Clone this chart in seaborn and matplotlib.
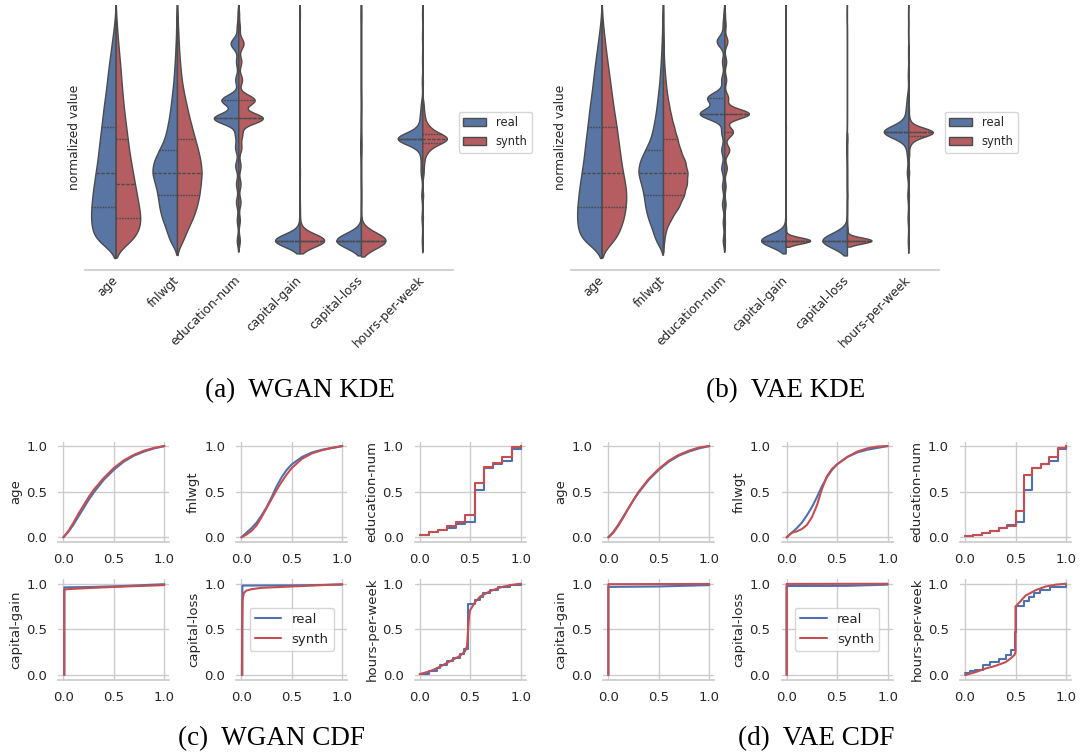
import numpy as np
import pandas as pd
import seaborn as sns
import matplotlib.pyplot as plt

FEATURES = ["age", "fnlwgt", "education-num", "capital-gain", "capital-loss", "hours-per-week"]
SOURCES = ["real", "synth"]
COLORS = {"real": "#4c72b0", "synth": "#c44e52"}

# ---- violin samples: value levels and number of samples on each level ----
CONT_LEVELS = [0.00, 0.05, 0.10, 0.15, 0.20, 0.25, 0.30, 0.35, 0.40, 0.45, 0.50,
               0.55, 0.60, 0.65, 0.70, 0.75, 0.80, 0.85, 0.90, 0.95, 1.00]
AGE_REAL = [85, 95, 100, 97, 93, 87, 80, 73, 68, 63, 57, 52, 47, 40, 35, 30, 24, 18, 12, 6, 2]
AGE_WGAN = [70, 95, 100, 92, 84, 76, 68, 60, 53, 47, 42, 36, 31, 27, 23, 20, 16, 12, 8, 5, 2]
AGE_VAE = [55, 75, 90, 97, 100, 95, 85, 78, 72, 66, 60, 53, 46, 40, 34, 28, 22, 16, 11, 6, 2]
FNL_REAL = [30, 42, 60, 70, 75, 85, 100, 92, 70, 48, 38, 30, 24, 19, 14, 11, 8, 6, 4, 3, 2]
FNL_WGAN = [25, 42, 65, 80, 90, 95, 100, 95, 85, 72, 60, 48, 38, 28, 20, 15, 11, 8, 6, 4, 2]
FNL_VAE = [5, 12, 35, 65, 85, 97, 100, 90, 70, 58, 45, 33, 24, 16, 11, 7, 4, 3, 2, 1, 1]

EDU_LEVELS_W = [0.0, 0.09, 0.17, 0.25, 0.33, 0.41, 0.47, 0.54, 0.62, 0.71, 0.79, 0.87, 0.94, 1.0]
EDU_LEVELS_V = [0.0, 0.08, 0.16, 0.24, 0.32, 0.40, 0.48, 0.56, 0.63, 0.71, 0.79, 0.88, 0.95, 1.0]
EDU_REAL = [2, 2, 3, 3, 4, 4, 4, 32, 22, 4, 3, 10, 2, 1]
EDU_WGAN = [2, 2, 3, 3, 3, 4, 5, 33, 22, 5, 4, 7, 2, 1]
EDU_VAE = [1, 1, 2, 2, 4, 8, 14, 40, 6, 3, 3, 5, 2, 1]

GAIN_LEVELS = [0.0, 0.02, 0.05, 0.1, 0.15, 0.3, 0.5, 1.0]
GAIN_REAL = [92, 2, 2, 1, 1, 1, 0, 1]
GAIN_WGAN = [90, 3, 3, 1, 1, 1, 0, 1]
GAIN_VAE = [96, 0, 2, 1, 0, 0, 1, 0]

LOSS_LEVELS = [0.0, 0.05, 0.2, 0.4, 0.45, 0.6, 1.0]
LOSS_REAL = [95, 1, 0, 2, 1, 0, 1]
LOSS_WGAN = [93, 2, 1, 1, 1, 1, 1]
LOSS_VAE = [96, 2, 1, 0, 1, 0, 0]

HOURS_LEVELS_W = [0.0, 0.1, 0.2, 0.3, 0.35, 0.4, 0.43, 0.45, 0.47, 0.5, 0.55, 0.6, 0.7, 0.8, 0.9, 1.0]
HOURS_LEVELS_V = [0.0, 0.1, 0.2, 0.3, 0.38, 0.43, 0.46, 0.48, 0.5, 0.53, 0.58, 0.63, 0.73, 0.83, 0.92, 1.0]
HOURS_REAL = [2, 3, 4, 6, 5, 8, 0, 100, 0, 12, 8, 5, 2, 1, 1, 1]
HOURS_WGAN = [2, 3, 4, 6, 8, 22, 15, 100, 15, 25, 10, 6, 3, 2, 1, 1]
HOURS_VAE = [1, 2, 3, 4, 4, 8, 25, 100, 8, 6, 3, 2, 1, 1, 0, 0]

# ---- cumulative distributions ----
AGE_X = [0.0, 0.05, 0.1, 0.15, 0.2, 0.25, 0.3, 0.4, 0.5, 0.6, 0.7, 0.8, 0.9, 1.0]
AGE_CDF_REAL = [0.0, 0.06, 0.14, 0.23, 0.32, 0.41, 0.49, 0.63, 0.74, 0.83, 0.895, 0.94, 0.975, 1.0]
AGE_CDF_WGAN = [0.0, 0.07, 0.16, 0.26, 0.35, 0.44, 0.52, 0.65, 0.76, 0.845, 0.905, 0.95, 0.98, 1.0]
AGE_CDF_VAE = [0.0, 0.05, 0.13, 0.22, 0.32, 0.41, 0.5, 0.64, 0.75, 0.84, 0.905, 0.95, 0.985, 1.0]

FNL_X = [0.0, 0.05, 0.1, 0.15, 0.2, 0.25, 0.3, 0.35, 0.4, 0.45, 0.5, 0.6, 0.7, 0.8, 0.9, 1.0]
FNL_CDF_REAL = [0.0, 0.05, 0.1, 0.16, 0.24, 0.33, 0.44, 0.56, 0.66, 0.74, 0.8, 0.88, 0.93, 0.96, 0.98, 1.0]
FNL_CDF_WGAN = [0.0, 0.03, 0.07, 0.13, 0.22, 0.32, 0.42, 0.52, 0.61, 0.69, 0.76, 0.86, 0.92, 0.955, 0.98, 1.0]
FNL_CDF_VAE = [0.0, 0.05, 0.065, 0.09, 0.135, 0.22, 0.35, 0.53, 0.67, 0.75, 0.8, 0.88, 0.94, 0.975, 0.995, 1.0]

EDU_X_W = [0.0, 0.09, 0.18, 0.27, 0.36, 0.45, 0.55, 0.64, 0.73, 0.82, 0.91, 1.0]
EDU_CDF_REAL_W = [0.022, 0.055, 0.077, 0.105, 0.15, 0.17, 0.52, 0.763, 0.805, 0.84, 0.965, 1.0]
EDU_CDF_WGAN = [0.03, 0.06, 0.085, 0.12, 0.165, 0.245, 0.6, 0.77, 0.81, 0.883, 0.985, 1.0]
EDU_X_V = [0.0, 0.083, 0.167, 0.25, 0.333, 0.417, 0.5, 0.583, 0.667, 0.75, 0.833, 0.917, 1.0]
EDU_CDF_REAL_V = [0.015, 0.03, 0.05, 0.07, 0.1, 0.14, 0.17, 0.52, 0.763, 0.805, 0.84, 0.965, 1.0]
EDU_CDF_VAE = [0.015, 0.03, 0.05, 0.07, 0.1, 0.12, 0.29, 0.68, 0.763, 0.805, 0.88, 0.98, 1.0]

GAIN_X_REAL_W = [0.01, 0.01, 0.3, 0.6, 1.0]
GAIN_CDF_REAL_W = [0.0, 0.96, 0.965, 0.975, 0.995]
GAIN_X_WGAN = [0.008, 0.008, 0.03, 0.2, 0.5, 1.0]
GAIN_CDF_WGAN = [0.0, 0.93, 0.94, 0.95, 0.965, 0.985]
GAIN_X_REAL_V = [0.0, 0.0, 0.5, 1.0]
GAIN_CDF_REAL_V = [0.0, 0.965, 0.97, 0.985]
GAIN_X_VAE = [0.0, 0.0, 1.0]
GAIN_CDF_VAE = [0.0, 0.995, 0.998]

LOSS_X_REAL_W = [0.01, 0.01, 0.5, 1.0]
LOSS_CDF_REAL_W = [0.0, 0.98, 0.982, 0.99]
LOSS_X_WGAN = [0.005, 0.007, 0.012, 0.025, 0.05, 0.1, 0.2, 0.5, 0.8, 1.0]
LOSS_CDF_WGAN = [0.0, 0.5, 0.82, 0.9, 0.925, 0.94, 0.955, 0.97, 0.985, 0.995]
LOSS_X_REAL_V = [0.0, 0.0, 0.6, 1.0]
LOSS_CDF_REAL_V = [0.0, 0.975, 0.977, 0.99]
LOSS_X_VAE = [0.0, 0.0, 1.0]
LOSS_CDF_VAE = [0.0, 0.998, 1.0]

HOURS_X_REAL_W = [0.0, 0.09, 0.17, 0.2, 0.27, 0.33, 0.4, 0.44, 0.48, 0.55, 0.6, 0.63, 0.7, 0.78, 0.9, 1.0]
HOURS_CDF_REAL_W = [0.015, 0.04, 0.08, 0.11, 0.15, 0.19, 0.23, 0.28, 0.78, 0.82, 0.86, 0.9, 0.93, 0.965, 0.985, 1.0]
HOURS_X_WGAN = [0.0, 0.1, 0.2, 0.3, 0.4, 0.45, 0.47, 0.48, 0.49, 0.5, 0.55, 0.6, 0.7, 0.8, 0.9, 1.0]
HOURS_CDF_WGAN = [0.01, 0.04, 0.09, 0.15, 0.21, 0.26, 0.32, 0.5, 0.65, 0.71, 0.8, 0.86, 0.92, 0.96, 0.985, 1.0]
HOURS_X_REAL_V = [0.0, 0.05, 0.1, 0.18, 0.25, 0.34, 0.41, 0.46, 0.495, 0.505, 0.58, 0.63, 0.68, 0.74, 0.84, 1.0]
HOURS_CDF_REAL_V = [0.02, 0.04, 0.06, 0.11, 0.14, 0.18, 0.22, 0.27, 0.47, 0.76, 0.81, 0.85, 0.9, 0.93, 0.96, 0.985]
HOURS_X_VAE = [0.0, 0.1, 0.2, 0.3, 0.4, 0.45, 0.49, 0.5, 0.5, 0.55, 0.6, 0.7, 0.8, 0.9, 1.0]
HOURS_CDF_VAE = [0.0, 0.03, 0.07, 0.1, 0.14, 0.18, 0.22, 0.25, 0.75, 0.81, 0.87, 0.93, 0.97, 0.99, 1.0]

# kde bandwidth factor per feature
BW = [0.16, 0.16, 0.12, 0.27, 0.27, 0.22]


def violin_frame(levels_list, real_list, synth_list):
    parts = []
    for feat, levels, real, synth in zip(FEATURES, levels_list, real_list, synth_list):
        for src, counts in zip(SOURCES, (real, synth)):
            vals = np.repeat(levels, counts)
            parts.append(pd.DataFrame({"feature": feat, "source": src, "value": vals}))
    return pd.concat(parts, ignore_index=True)


def draw_violins(ax, df):
    for i, feat in enumerate(FEATURES):
        sub = df[df["feature"] == feat]
        sns.violinplot(
            data=sub, x="feature", y="value", hue="source",
            order=FEATURES, hue_order=SOURCES, palette=COLORS,
            split=True, inner="quart", density_norm="width",
            bw_method=BW[i], cut=2, gridsize=200, linewidth=1,
            legend=(i == len(FEATURES) - 1), ax=ax,
        )
    ax.set_xlim(-0.5, 5.5)
    ax.set_ylim(-0.13, 1.04)
    ax.set_yticks([])
    ax.grid(False)
    ax.set_xlabel("")
    ax.set_ylabel("normalized value", fontsize=8.8, labelpad=3)
    ax.set_xticks(range(len(FEATURES)))
    ax.set_xticklabels(FEATURES, rotation=45, ha="right", va="center",
                       rotation_mode="anchor", fontsize=8.8)
    ax.tick_params(axis="x", length=0, pad=6)
    sns.despine(ax=ax, left=True)
    sns.move_legend(ax, "center left", bbox_to_anchor=(1.0, 0.52),
                    title=None, fontsize=8.3, frameon=True)


def draw_cdf_group(fig, lefts, panels):
    bottoms = [0.2832, 0.1011]
    for k, (name, rx, ry, rstep, sx, sy, sstep) in enumerate(panels):
        row, col = divmod(k, 3)
        ax = fig.add_axes([lefts[col], bottoms[row], 0.1028, 0.1328])
        sns.lineplot(x=rx, y=ry, color=COLORS["real"], label="real", lw=1.5,
                     estimator=None, sort=False,
                     drawstyle="steps-post" if rstep else "default", ax=ax)
        sns.lineplot(x=sx, y=sy, color=COLORS["synth"], label="synth", lw=1.5,
                     estimator=None, sort=False,
                     drawstyle="steps-post" if sstep else "default", ax=ax)
        ax.set_xlim(-0.05, 1.05)
        ax.set_ylim(-0.05, 1.05)
        ax.set_xticks([0, 0.5, 1.0])
        ax.set_yticks([0, 0.5, 1.0])
        ax.tick_params(labelsize=9.5, length=0)
        ax.tick_params(axis="x", pad=8)
        ax.tick_params(axis="y", pad=8)
        ax.set_xlabel("")
        ax.set_ylabel(name, fontsize=9.5, labelpad=3)
        sns.despine(ax=ax, left=True)
        if name == "capital-loss":
            ax.legend(loc="center", fontsize=9.5)
        elif ax.get_legend() is not None:
            ax.get_legend().remove()


wgan_df = violin_frame(
    [CONT_LEVELS, CONT_LEVELS, EDU_LEVELS_W, GAIN_LEVELS, LOSS_LEVELS, HOURS_LEVELS_W],
    [AGE_REAL, FNL_REAL, EDU_REAL, GAIN_REAL, LOSS_REAL, HOURS_REAL],
    [AGE_WGAN, FNL_WGAN, EDU_WGAN, GAIN_WGAN, LOSS_WGAN, HOURS_WGAN],
)
vae_df = violin_frame(
    [CONT_LEVELS, CONT_LEVELS, EDU_LEVELS_V, GAIN_LEVELS, LOSS_LEVELS, HOURS_LEVELS_V],
    [AGE_REAL, FNL_REAL, EDU_REAL, GAIN_REAL, LOSS_REAL, HOURS_REAL],
    [AGE_VAE, FNL_VAE, EDU_VAE, GAIN_VAE, LOSS_VAE, HOURS_VAE],
)

wgan_cdf = [
    ("age", AGE_X, AGE_CDF_REAL, False, AGE_X, AGE_CDF_WGAN, False),
    ("fnlwgt", FNL_X, FNL_CDF_REAL, False, FNL_X, FNL_CDF_WGAN, False),
    ("education-num", EDU_X_W, EDU_CDF_REAL_W, True, EDU_X_W, EDU_CDF_WGAN, True),
    ("capital-gain", GAIN_X_REAL_W, GAIN_CDF_REAL_W, False, GAIN_X_WGAN, GAIN_CDF_WGAN, False),
    ("capital-loss", LOSS_X_REAL_W, LOSS_CDF_REAL_W, False, LOSS_X_WGAN, LOSS_CDF_WGAN, False),
    ("hours-per-week", HOURS_X_REAL_W, HOURS_CDF_REAL_W, True, HOURS_X_WGAN, HOURS_CDF_WGAN, False),
]
vae_cdf = [
    ("age", AGE_X, AGE_CDF_REAL, False, AGE_X, AGE_CDF_VAE, False),
    ("fnlwgt", FNL_X, FNL_CDF_REAL, False, FNL_X, FNL_CDF_VAE, False),
    ("education-num", EDU_X_V, EDU_CDF_REAL_V, True, EDU_X_V, EDU_CDF_VAE, True),
    ("capital-gain", GAIN_X_REAL_V, GAIN_CDF_REAL_V, False, GAIN_X_VAE, GAIN_CDF_VAE, False),
    ("capital-loss", LOSS_X_REAL_V, LOSS_CDF_REAL_V, False, LOSS_X_VAE, LOSS_CDF_VAE, False),
    ("hours-per-week", HOURS_X_REAL_V, HOURS_CDF_REAL_V, True, HOURS_X_VAE, HOURS_CDF_VAE, False),
]

sns.set_theme(style="whitegrid")
fig = plt.figure(figsize=(10.8, 7.56), dpi=100)

ax_a = fig.add_axes([0.0787, 0.6429, 0.3407, 0.3505])
draw_violins(ax_a, wgan_df)
ax_b = fig.add_axes([0.5287, 0.6429, 0.3407, 0.3505])
draw_violins(ax_b, vae_df)

draw_cdf_group(fig, [0.0540, 0.2188, 0.3839], wgan_cdf)
draw_cdf_group(fig, [0.5586, 0.7237, 0.8889], vae_cdf)

cap = dict(family=["Liberation Serif", "DejaVu Serif"], fontsize=19.5,
           ha="center", va="center", color="black")
fig.text(0.2778, 0.4828, "(a)  WGAN KDE", **cap)
fig.text(0.7278, 0.4828, "(b)  VAE KDE", **cap)
fig.text(0.2509, 0.0225, "(c)  WGAN CDF", **cap)
fig.text(0.7556, 0.0225, "(d)  VAE CDF", **cap)

fig.savefig("out.png", dpi=100)
